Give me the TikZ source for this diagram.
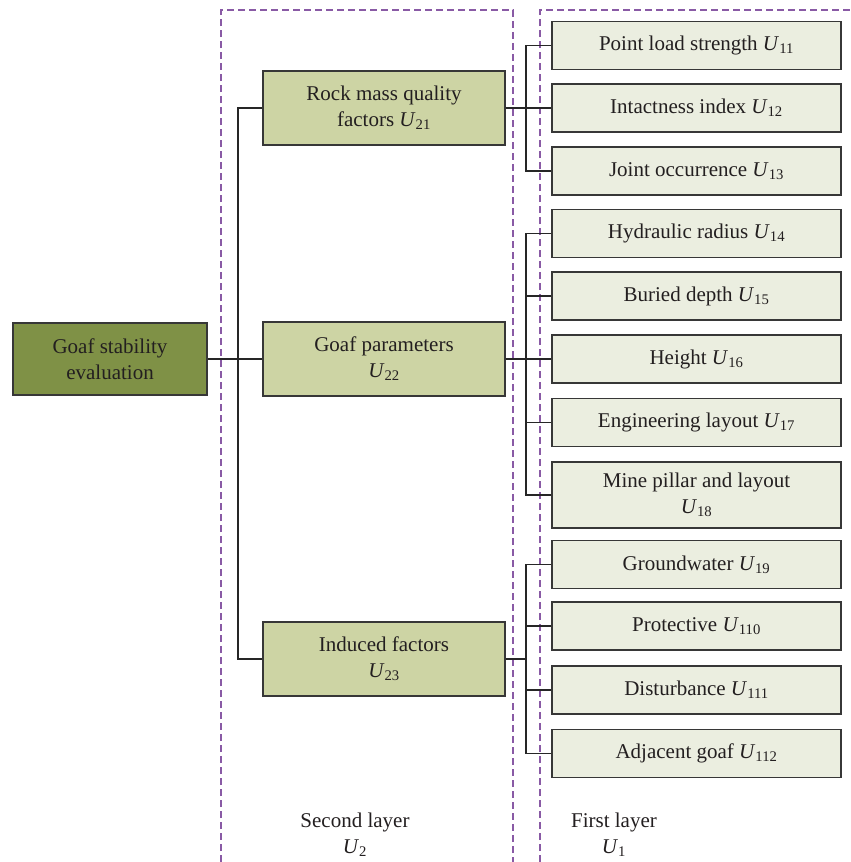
\documentclass[tikz,border=0pt]{standalone}
\usepackage{fontspec}
\setmainfont{Liberation Serif}
\definecolor{rootfill}{RGB}{127,145,70}
\definecolor{midfill}{RGB}{205,212,164}
\definecolor{leaffill}{RGB}{235,238,224}
\definecolor{bordercol}{RGB}{55,55,55}
\definecolor{textcol}{RGB}{35,31,32}
\definecolor{dashcol}{RGB}{137,90,165}
\newcommand{\Usub}[1]{\textit{U}\textsubscript{#1}}
\begin{document}
\begin{tikzpicture}[x=1pt,y=-1pt,
  box/.style={draw=bordercol, line width=1.3pt, text=textcol, align=center,
    font=\fontsize{21}{26}\selectfont, inner sep=0pt},
  rootbox/.style={box, fill=rootfill, minimum width=194pt, minimum height=72pt},
  midbox/.style={box, fill=midfill, minimum width=242pt, minimum height=74pt},
  leafbox/.style={box, fill=leaffill, minimum width=289pt, minimum height=48pt},
  conn/.style={line width=1.1pt, draw=black!85},
  layer/.style={draw=dashcol, line width=1.5pt, dash pattern=on 7pt off 4pt},
  lab/.style={text=textcol, align=center, font=\fontsize{21}{26}\selectfont, inner sep=0pt}]
\useasboundingbox[fill=white] (0,0) rectangle (851,862);
% layer frames
\draw[layer] (221,862) -- (221,10) -- (513,10) -- (513,862);
\draw[layer] (540,862) -- (540,10) -- (851,10);
% helper coordinates
\coordinate (tx) at (238,0);
\coordinate (bx) at (526,0);
% nodes
\node[rootbox] (root) at (110,359) {Goaf stability\\evaluation};
\node[midbox] (U21) at (384,108) {Rock mass quality\\factors \Usub{21}};
\node[midbox] (U22) at (384,359) {Goaf parameters\\\Usub{22}};
\node[midbox] (U23) at (384,659) {Induced factors\\\Usub{23}};
\node[leafbox] (U11) at (696.5,45.5) {Point load strength \Usub{11}};
\node[leafbox] (U12) at (696.5,108) {Intactness index \Usub{12}};
\node[leafbox] (U13) at (696.5,171) {Joint occurrence \Usub{13}};
\node[leafbox] (U14) at (696.5,233.5) {Hydraulic radius \Usub{14}};
\node[leafbox] (U15) at (696.5,296) {Buried depth \Usub{15}};
\node[leafbox] (U16) at (696.5,359) {Height \Usub{16}};
\node[leafbox] (U17) at (696.5,422.5) {Engineering layout \Usub{17}};
\node[leafbox, minimum height=66pt] (U18) at (696.5,495) {Mine pillar and layout\\\Usub{18}};
\node[leafbox] (U19) at (696.5,564.5) {Groundwater \Usub{19}};
\node[leafbox] (U110) at (696.5,626) {Protective \Usub{110}};
\node[leafbox] (U111) at (696.5,690) {Disturbance \Usub{111}};
\node[leafbox] (U112) at (696.5,753.5) {Adjacent goaf \Usub{112}};
\node[lab] (L2) at (355,835) {Second layer\\\Usub{2}};
\node[lab] (L1) at (614,835) {First layer\\\Usub{1}};
% connectors
\draw[conn] (root.east) -- (U22.west);
\draw[conn] (U21.west) -- (U21.west -| tx) -- (U23.west -| tx) -- (U23.west);
\foreach \c in {U11,U12,U13}
  \draw[conn] (U21.east) -- (U21.east -| bx) |- (\c.west);
\foreach \c in {U14,U15,U16,U17,U18}
  \draw[conn] (U22.east) -- (U22.east -| bx) |- (\c.west);
\foreach \c in {U19,U110,U111,U112}
  \draw[conn] (U23.east) -- (U23.east -| bx) |- (\c.west);
\end{tikzpicture}
\end{document}
